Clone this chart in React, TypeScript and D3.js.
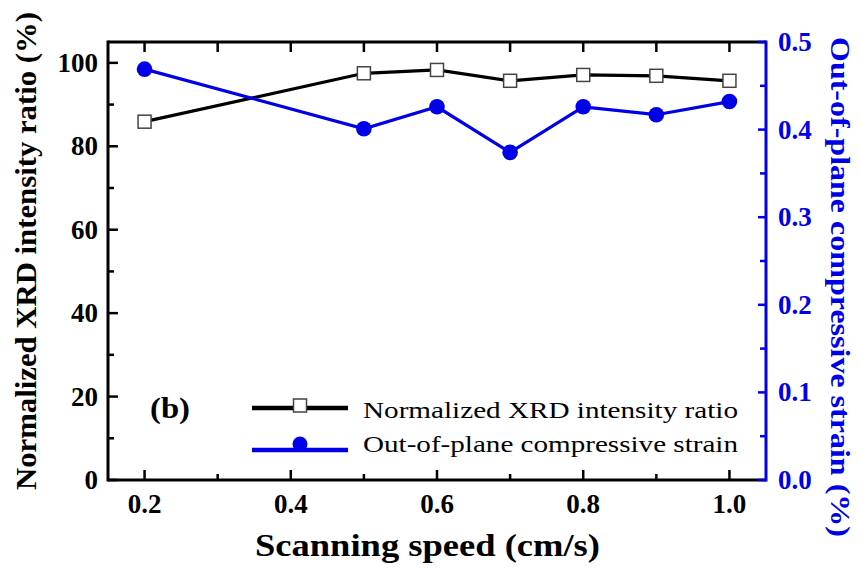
import * as d3 from 'd3';
import { useEffect, useRef } from 'react';

const speeds = [0.2, 0.5, 0.6, 0.7, 0.8, 0.9, 1.0];
const xrdRatio = [85.9, 97.5, 98.3, 95.7, 97.1, 96.9, 95.7];
const strain = [0.469, 0.401, 0.426, 0.374, 0.426, 0.417, 0.432];
const xTicks = [0.2, 0.4, 0.6, 0.8, 1.0];
const leftTicks = [0, 20, 40, 60, 80, 100];
const rightTicks = [0.0, 0.1, 0.2, 0.3, 0.4, 0.5];
const legendLabels = ['Normalized XRD intensity ratio', 'Out-of-plane compressive strain'];

const BLUE = '#0000e8';
const FONT = '"Liberation Serif", "Times New Roman", serif';

const App = () => {
    const ref = useRef<SVGSVGElement | null>(null);

    useEffect(() => {
        if (!ref.current) return;
        const svg = d3.select(ref.current);
        svg.selectAll('*').remove();

        const left = 108, right = 766, top = 42, bottom = 480;

        const x = d3.scaleLinear().domain([0.15, 1.05]).range([left, right]);
        const yL = d3.scaleLinear().domain([0, 105]).range([bottom, top]);
        const yR = d3.scaleLinear().domain([0, 0.5]).range([bottom, top]);

        const g = svg.append('g').style('font-family', FONT);

        // frame
        g.append('line').attr('x1', left).attr('x2', right).attr('y1', top).attr('y2', top)
            .attr('stroke', '#000').attr('stroke-width', 3);
        g.append('line').attr('x1', left).attr('x2', right).attr('y1', bottom).attr('y2', bottom)
            .attr('stroke', '#000').attr('stroke-width', 3);
        g.append('line').attr('x1', left).attr('x2', left).attr('y1', top - 1.5).attr('y2', bottom + 1.5)
            .attr('stroke', '#000').attr('stroke-width', 3);
        g.append('line').attr('x1', right).attr('x2', right).attr('y1', top - 1.5).attr('y2', bottom + 1.5)
            .attr('stroke', BLUE).attr('stroke-width', 3);

        // bottom + top ticks (inward)
        const xAll = d3.range(0.2, 1.001, 0.1);
        xAll.forEach((v, i) => {
            const major = i % 2 === 0;
            g.append('line').attr('x1', x(v)).attr('x2', x(v))
                .attr('y1', bottom).attr('y2', bottom - (major ? 10 : 6))
                .attr('stroke', '#000').attr('stroke-width', 2.5);
            g.append('line').attr('x1', x(v)).attr('x2', x(v))
                .attr('y1', top).attr('y2', top + 10)
                .attr('stroke', '#000').attr('stroke-width', 2.5);
        });
        xTicks.forEach(v => {
            g.append('text').attr('x', x(v)).attr('y', bottom + 33)
                .attr('text-anchor', 'middle').attr('font-weight', 'bold').attr('font-size', 27)
                .text(d3.format('.1f')(v));
        });

        // left axis
        d3.range(0, 101, 10).forEach(v => {
            const major = v % 20 === 0;
            g.append('line').attr('x1', left).attr('x2', left + (major ? 10 : 6))
                .attr('y1', yL(v)).attr('y2', yL(v))
                .attr('stroke', '#000').attr('stroke-width', 2.5);
        });
        leftTicks.forEach(v => {
            g.append('text').attr('x', left - 10).attr('y', yL(v) + 9)
                .attr('text-anchor', 'end').attr('font-weight', 'bold').attr('font-size', 27)
                .text(v);
        });

        // right axis
        d3.range(0, 0.501, 0.05).forEach((v, i) => {
            g.append('line').attr('x1', right).attr('x2', right - (i % 2 === 0 ? 8 : 6))
                .attr('y1', yR(v)).attr('y2', yR(v))
                .attr('stroke', BLUE).attr('stroke-width', 2.5);
        });
        rightTicks.forEach(v => {
            g.append('text').attr('x', right + 12).attr('y', yR(v) + 9)
                .attr('text-anchor', 'start').attr('font-weight', 'bold').attr('font-size', 27)
                .attr('fill', BLUE)
                .text(d3.format('.1f')(v));
        });

        // axis titles
        g.append('text').attr('x', 255).attr('y', 556)
            .attr('font-weight', 'bold').attr('font-size', 32)
            .attr('textLength', 345).attr('lengthAdjust', 'spacingAndGlyphs')
            .text('Scanning speed (cm/s)');
        g.append('text').attr('transform', `translate(36,490) rotate(-90)`)
            .attr('font-weight', 'bold').attr('font-size', 29)
            .attr('textLength', 478).attr('lengthAdjust', 'spacingAndGlyphs')
            .text('Normalized XRD intensity ratio (%)');
        g.append('text').attr('transform', `translate(831,37) rotate(90)`)
            .attr('font-weight', 'bold').attr('font-size', 27)
            .attr('fill', BLUE)
            .attr('textLength', 500).attr('lengthAdjust', 'spacingAndGlyphs')
            .text('Out-of-plane compressive strain (%)');

        // series
        const pts1 = speeds.map((s, i) => [x(s), yL(xrdRatio[i])] as [number, number]);
        const pts2 = speeds.map((s, i) => [x(s), yR(strain[i])] as [number, number]);
        const line = d3.line();

        g.append('path').attr('d', line(pts1)).attr('fill', 'none')
            .attr('stroke', '#000').attr('stroke-width', 3.2);
        g.append('path').attr('d', line(pts2)).attr('fill', 'none')
            .attr('stroke', BLUE).attr('stroke-width', 3.2);

        g.selectAll('.sq').data(pts1).enter().append('rect')
            .attr('x', d => d[0] - 6.5).attr('y', d => d[1] - 6.5)
            .attr('width', 13).attr('height', 13)
            .attr('fill', '#fff').attr('stroke', '#444').attr('stroke-width', 1.5);
        g.selectAll('.ci').data(pts2).enter().append('circle')
            .attr('cx', d => d[0]).attr('cy', d => d[1]).attr('r', 7.8)
            .attr('fill', BLUE);

        // panel label
        g.append('text').attr('x', 150).attr('y', 418)
            .attr('font-weight', 'bold').attr('font-size', 29)
            .attr('textLength', 40).attr('lengthAdjust', 'spacingAndGlyphs')
            .text('(b)');

        // legend
        const lgX1 = 252, lgX2 = 348, lgY = [408, 450];
        const textY = [418, 452];
        legendLabels.forEach((lab, i) => {
            g.append('line').attr('x1', lgX1).attr('x2', lgX2).attr('y1', lgY[i]).attr('y2', lgY[i])
                .attr('stroke', i === 0 ? '#000' : BLUE).attr('stroke-width', 4.5);
            if (i === 0) {
                g.append('rect').attr('x', 300 - 6.5).attr('y', lgY[i] - 9)
                    .attr('width', 13).attr('height', 13)
                    .attr('fill', '#fff').attr('stroke', '#444').attr('stroke-width', 1.5);
            } else {
                g.append('circle').attr('cx', 300).attr('cy', lgY[i] - 6).attr('r', 7.5).attr('fill', BLUE);
            }
            g.append('text').attr('x', 363).attr('y', textY[i])
                .attr('font-size', 24)
                .attr('textLength', 375).attr('lengthAdjust', 'spacingAndGlyphs')
                .text(lab);
        });
    }, []);

    return (
        <svg ref={ref} width={861} height={572}
            style={{ position: 'absolute', left: 0, top: 0, background: '#fff' }} />
    );
};

export default App;
